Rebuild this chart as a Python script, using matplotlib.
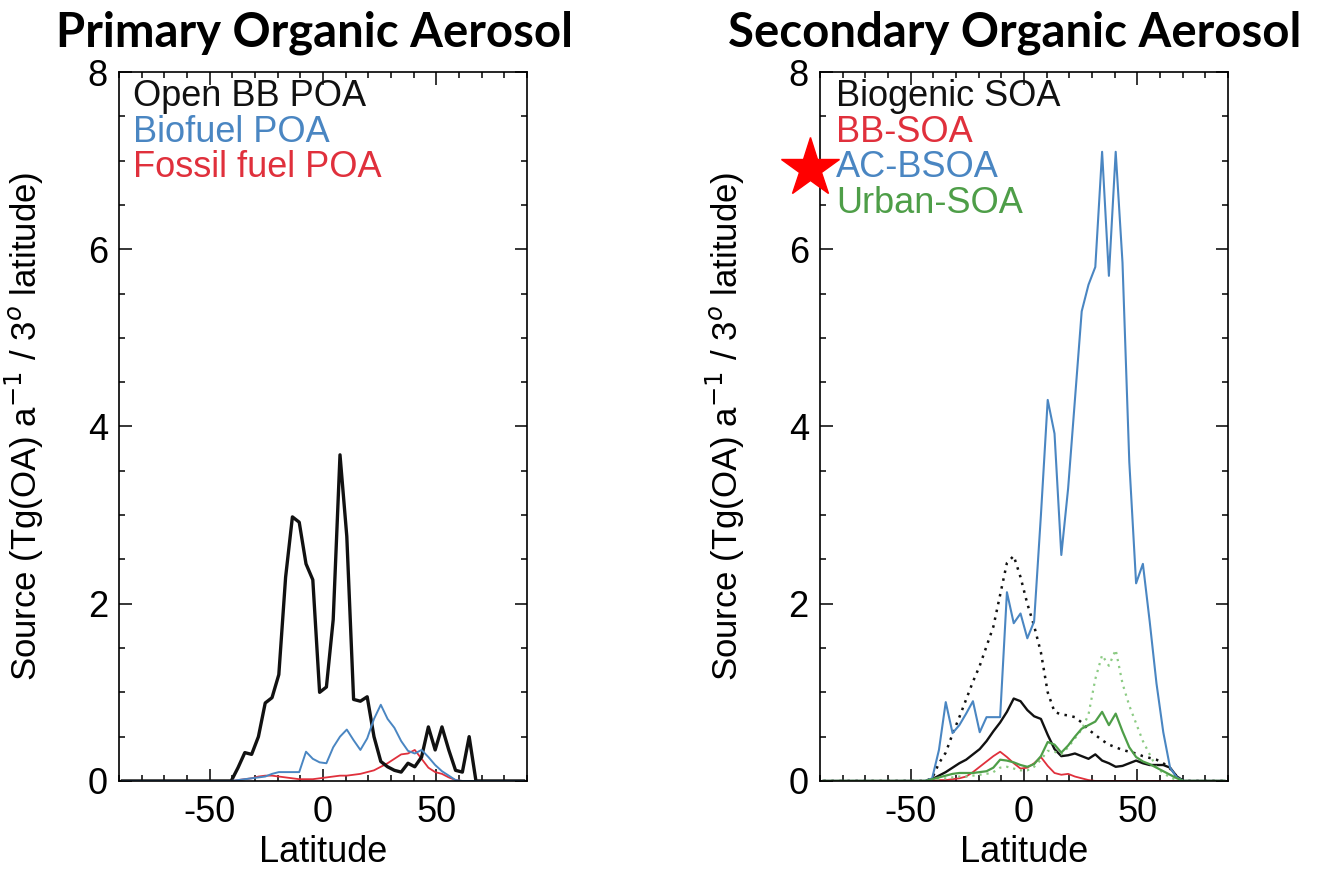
import numpy as np
import matplotlib.pyplot as plt
from matplotlib.ticker import MultipleLocator

# latitude bin centres (3 degree bins)
lat = np.arange(-88.5, 89.0, 3.0)

# ---- primary organic aerosol, Tg(OA)/a per 3 deg latitude ----
open_bb_poa = [0, 0, 0, 0, 0, 0, 0, 0, 0, 0,
               0, 0, 0, 0, 0, 0, 0, 0.15, 0.32, 0.3,
               0.5, 0.88, 0.94, 1.2, 2.3, 2.98, 2.92, 2.45, 2.27, 1.0,
               1.06, 1.82, 3.68, 2.76, 0.92, 0.9, 0.95, 0.5, 0.22, 0.16,
               0.12, 0.1, 0.2, 0.16, 0.27, 0.61, 0.35, 0.61, 0.35, 0.12,
               0.1, 0.5, 0.0, 0, 0, 0, 0, 0, 0, 0]
biofuel_poa = [0, 0, 0, 0, 0, 0, 0, 0, 0, 0,
               0, 0, 0, 0, 0, 0, 0, 0.01, 0.02, 0.03,
               0.04, 0.05, 0.08, 0.1, 0.1, 0.1, 0.1, 0.33, 0.25, 0.21,
               0.2, 0.38, 0.5, 0.58, 0.46, 0.35, 0.48, 0.7, 0.86, 0.7,
               0.6, 0.45, 0.34, 0.31, 0.35, 0.27, 0.18, 0.11, 0.06, 0.01,
               0, 0, 0, 0, 0, 0, 0, 0, 0, 0]
fossil_poa = [0, 0, 0, 0, 0, 0, 0, 0, 0, 0,
              0, 0, 0, 0, 0, 0, 0, 0.01, 0.02, 0.03,
              0.05, 0.06, 0.06, 0.05, 0.04, 0.03, 0.02, 0.02, 0.02, 0.03,
              0.04, 0.05, 0.06, 0.06, 0.07, 0.08, 0.1, 0.12, 0.16, 0.2,
              0.25, 0.3, 0.31, 0.35, 0.25, 0.15, 0.1, 0.08, 0.04, 0.01,
              0, 0, 0, 0, 0, 0, 0, 0, 0, 0]

# ---- secondary organic aerosol ----
biogenic_soa = [0, 0, 0, 0, 0, 0, 0, 0, 0, 0,
                0, 0, 0, 0, 0, 0, 0.02, 0.06, 0.1, 0.15,
                0.2, 0.24, 0.3, 0.36, 0.45, 0.56, 0.66, 0.78, 0.93, 0.9,
                0.8, 0.73, 0.7, 0.52, 0.36, 0.28, 0.29, 0.31, 0.28, 0.25,
                0.3, 0.23, 0.2, 0.16, 0.17, 0.2, 0.23, 0.2, 0.18, 0.18,
                0.18, 0.15, 0.05, 0, 0, 0, 0, 0, 0, 0]
biogenic_soa_dot = [0, 0, 0, 0, 0, 0, 0, 0, 0, 0,
                    0, 0, 0, 0, 0, 0, 0.03, 0.2, 0.32, 0.53,
                    0.72, 0.92, 1.12, 1.3, 1.52, 1.74, 2.1, 2.46, 2.54, 2.3,
                    2.0, 1.75, 1.45, 1.0, 0.78, 0.75, 0.74, 0.72, 0.66, 0.58,
                    0.52, 0.46, 0.41, 0.38, 0.35, 0.33, 0.31, 0.28, 0.26, 0.24,
                    0.2, 0.14, 0.05, 0, 0, 0, 0, 0, 0, 0]
bb_soa = [0, 0, 0, 0, 0, 0, 0, 0, 0, 0,
          0, 0, 0, 0, 0, 0, 0, 0.01, 0.01, 0.02,
          0.03, 0.05, 0.1, 0.16, 0.22, 0.28, 0.33, 0.27, 0.2, 0.14,
          0.15, 0.2, 0.27, 0.17, 0.09, 0.07, 0.08, 0.05, 0.03, 0.01,
          0, 0, 0, 0, 0, 0, 0, 0, 0, 0,
          0, 0, 0, 0, 0, 0, 0, 0, 0, 0]
ac_bsoa = [0, 0, 0, 0, 0, 0, 0, 0, 0, 0,
           0, 0, 0, 0, 0, 0, 0.03, 0.35, 0.89, 0.54,
           0.63, 0.76, 0.9, 0.55, 0.72, 0.72, 0.72, 2.13, 1.78, 1.89,
           1.61, 1.8, 3.0, 4.3, 3.92, 2.55, 3.3, 4.3, 5.3, 5.6,
           5.8, 7.1, 5.7, 7.1, 5.85, 3.6, 2.23, 2.45, 1.8, 1.1,
           0.55, 0.15, 0.04, 0, 0, 0, 0, 0, 0, 0]
urban_soa = [0, 0, 0, 0, 0, 0, 0, 0, 0, 0,
             0, 0, 0, 0, 0, 0, 0.02, 0.04, 0.06, 0.08,
             0.09, 0.09, 0.09, 0.1, 0.11, 0.15, 0.24, 0.23, 0.21, 0.18,
             0.16, 0.19, 0.28, 0.44, 0.41, 0.32, 0.4, 0.5, 0.59, 0.63,
             0.67, 0.78, 0.63, 0.76, 0.56, 0.38, 0.27, 0.22, 0.19, 0.15,
             0.11, 0.07, 0.03, 0, 0, 0, 0, 0, 0, 0]
urban_soa_dot = [0, 0, 0, 0, 0, 0, 0, 0, 0, 0,
                 0, 0, 0, 0, 0, 0, 0.01, 0.02, 0.03, 0.04,
                 0.05, 0.05, 0.06, 0.07, 0.08, 0.1, 0.15, 0.16, 0.14, 0.12,
                 0.12, 0.16, 0.24, 0.34, 0.33, 0.3, 0.38, 0.48, 0.58, 0.75,
                 1.15, 1.42, 1.3, 1.48, 1.1, 0.85, 0.65, 0.45, 0.3, 0.15,
                 0.09, 0.04, 0.01, 0, 0, 0, 0, 0, 0, 0]

titles = ['Primary Organic Aerosol', 'Secondary Organic Aerosol']
poa_labels = ['Open BB POA', 'Biofuel POA', 'Fossil fuel POA']
soa_labels = ['Biogenic SOA', 'BB-SOA', 'AC-BSOA', 'Urban-SOA']

black = '#111111'
blue = '#4a86c2'
red = '#e0303c'
green = '#4e9e48'
lgreen = '#8ccb84'

plt.rcParams['font.family'] = ['Liberation Sans', 'DejaVu Sans']
plt.rcParams['axes.unicode_minus'] = False
fs = 26

fig = plt.figure(figsize=(13.2, 8.72), dpi=100)
ax1 = fig.add_axes([0.0902, 0.1044, 0.309, 0.813])
ax2 = fig.add_axes([0.6212, 0.1044, 0.309, 0.813])

# left panel
ax1.plot(lat, fossil_poa, color=red, lw=1.3)
ax1.plot(lat, open_bb_poa, color=black, lw=2.4)
ax1.plot(lat, biofuel_poa, color=blue, lw=1.4)

# right panel
ax2.plot(lat, biogenic_soa_dot, color=black, lw=1.8, ls=(0, (1, 2.2)))
ax2.plot(lat, biogenic_soa, color=black, lw=1.7)
ax2.plot(lat, ac_bsoa, color=blue, lw=1.5)
ax2.plot(lat, bb_soa, color=red, lw=1.3)
ax2.plot(lat, urban_soa_dot, color=lgreen, lw=1.6, ls=(0, (1, 2.2)))
ax2.plot(lat, urban_soa, color=green, lw=1.6)

for ax in (ax1, ax2):
    ax.set_xlim(-90, 90)
    ax.set_ylim(0, 8)
    ax.xaxis.set_major_locator(MultipleLocator(50))
    ax.xaxis.set_minor_locator(MultipleLocator(10))
    ax.yaxis.set_major_locator(MultipleLocator(2))
    ax.yaxis.set_minor_locator(MultipleLocator(0.5))
    ax.tick_params(which='both', direction='in', top=True, right=True,
                   width=1.1, labelsize=fs)
    ax.tick_params(which='major', length=9)
    ax.tick_params(which='minor', length=4.5)
    ax.tick_params(axis='x', pad=10)
    ax.tick_params(axis='y', pad=8)
    for s in ax.spines.values():
        s.set_linewidth(1.2)
    ax.set_xlabel('Latitude', fontsize=fs, labelpad=4)
    ax.set_ylabel('Source (Tg(OA) a$^{-1}$ / 3$^{o}$ latitude)', fontsize=25)
    ax.yaxis.set_label_coords(-0.18, 0.5)

# text legends in upper left corner
for i, (lab, col) in enumerate(zip(poa_labels, [black, blue, red])):
    ax1.text(0.035, 0.965 - i * 0.05, lab, color=col, fontsize=fs,
             transform=ax1.transAxes, va='center', ha='left')
for i, (lab, col) in enumerate(zip(soa_labels, [black, red, blue, green])):
    ax2.text(0.04, 0.965 - i * 0.05, lab, color=col, fontsize=fs,
             transform=ax2.transAxes, va='center', ha='left')

# red star next to AC-BSOA
ax2.plot([-94.5], [6.92], marker='*', ms=44, color='red', mec='red',
         clip_on=False, zorder=10)

fig.text(0.2386, 0.963, titles[0], fontsize=34, fontweight='bold',
         family='Lato', ha='center', va='center')
fig.text(0.769, 0.963, titles[1], fontsize=34, fontweight='bold',
         family='Lato', ha='center', va='center')

plt.savefig('out.png', dpi=100)
